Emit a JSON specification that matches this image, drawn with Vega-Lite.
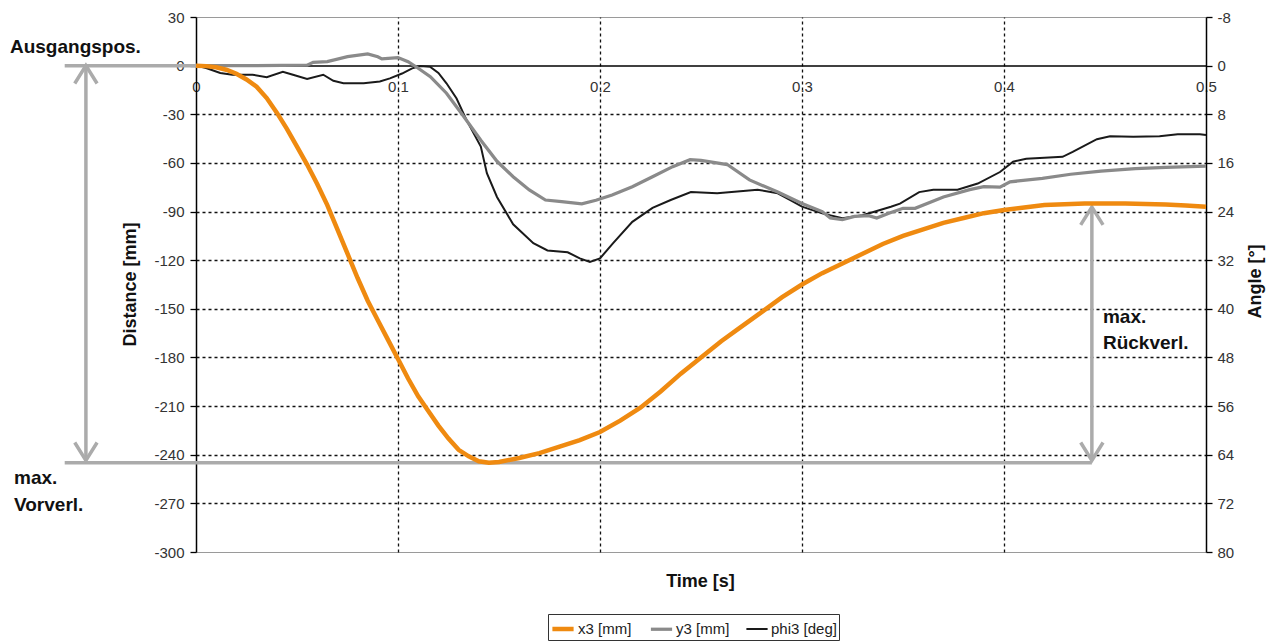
{
  "$schema": "https://vega.github.io/schema/vega-lite/v6.json",
  "width": 1010,
  "height": 535,
  "autosize": "none",
  "padding": {"left": 196, "top": 17, "right": 71, "bottom": 91},
  "background": "white",
  "config": {
    "font": "Liberation Sans",
    "view": {"stroke": "#9a9a9a", "strokeWidth": 1}
  },
  "datasets": {
    "x3": [
      {"t": 0, "v": 0}, {"t": 0.005, "v": -0.3}, {"t": 0.01, "v": -1}, {"t": 0.015, "v": -2.5},
      {"t": 0.02, "v": -5}, {"t": 0.025, "v": -8.5}, {"t": 0.03, "v": -13}, {"t": 0.035, "v": -20},
      {"t": 0.04, "v": -29}, {"t": 0.045, "v": -39}, {"t": 0.05, "v": -50}, {"t": 0.055, "v": -61},
      {"t": 0.06, "v": -73}, {"t": 0.065, "v": -86}, {"t": 0.07, "v": -101}, {"t": 0.075, "v": -116},
      {"t": 0.08, "v": -131}, {"t": 0.085, "v": -145}, {"t": 0.09, "v": -157}, {"t": 0.095, "v": -169},
      {"t": 0.1, "v": -181}, {"t": 0.105, "v": -193}, {"t": 0.11, "v": -204}, {"t": 0.115, "v": -213},
      {"t": 0.12, "v": -222}, {"t": 0.125, "v": -230}, {"t": 0.13, "v": -237}, {"t": 0.135, "v": -241},
      {"t": 0.14, "v": -244}, {"t": 0.145, "v": -245}, {"t": 0.15, "v": -244.5}, {"t": 0.16, "v": -242},
      {"t": 0.17, "v": -239}, {"t": 0.18, "v": -235}, {"t": 0.19, "v": -231}, {"t": 0.2, "v": -226},
      {"t": 0.21, "v": -219}, {"t": 0.22, "v": -211}, {"t": 0.23, "v": -201}, {"t": 0.24, "v": -190},
      {"t": 0.25, "v": -180}, {"t": 0.26, "v": -170}, {"t": 0.27, "v": -161}, {"t": 0.28, "v": -152},
      {"t": 0.29, "v": -143}, {"t": 0.3, "v": -135}, {"t": 0.31, "v": -128}, {"t": 0.32, "v": -122},
      {"t": 0.33, "v": -116}, {"t": 0.34, "v": -110}, {"t": 0.35, "v": -105}, {"t": 0.36, "v": -101},
      {"t": 0.37, "v": -97}, {"t": 0.38, "v": -94}, {"t": 0.39, "v": -91}, {"t": 0.4, "v": -89},
      {"t": 0.41, "v": -87.5}, {"t": 0.42, "v": -86}, {"t": 0.43, "v": -85.5}, {"t": 0.44, "v": -85},
      {"t": 0.45, "v": -85}, {"t": 0.46, "v": -85}, {"t": 0.47, "v": -85.3}, {"t": 0.48, "v": -85.7},
      {"t": 0.49, "v": -86.2}, {"t": 0.5, "v": -87}
    ],
    "y3": [
      {"t": 0, "v": 0}, {"t": 0.03, "v": 0}, {"t": 0.055, "v": 0.3}, {"t": 0.058, "v": 2},
      {"t": 0.065, "v": 2.5}, {"t": 0.075, "v": 5.5}, {"t": 0.085, "v": 7.2}, {"t": 0.09, "v": 5.5},
      {"t": 0.092, "v": 4.2}, {"t": 0.1, "v": 5}, {"t": 0.105, "v": 2.4}, {"t": 0.11, "v": -1.6},
      {"t": 0.116, "v": -6.8}, {"t": 0.124, "v": -17}, {"t": 0.132, "v": -30.5}, {"t": 0.141, "v": -46},
      {"t": 0.149, "v": -59}, {"t": 0.157, "v": -68.5}, {"t": 0.165, "v": -76.7}, {"t": 0.173, "v": -82.9},
      {"t": 0.181, "v": -83.9}, {"t": 0.191, "v": -85.3}, {"t": 0.198, "v": -83}, {"t": 0.206, "v": -79.8},
      {"t": 0.216, "v": -74.7}, {"t": 0.226, "v": -68.5}, {"t": 0.236, "v": -62.3}, {"t": 0.2446, "v": -58},
      {"t": 0.25, "v": -58.5}, {"t": 0.263, "v": -61}, {"t": 0.274, "v": -70.5}, {"t": 0.288, "v": -78},
      {"t": 0.3, "v": -85}, {"t": 0.31, "v": -90}, {"t": 0.314, "v": -94}, {"t": 0.32, "v": -95},
      {"t": 0.326, "v": -93}, {"t": 0.333, "v": -92.5}, {"t": 0.337, "v": -94}, {"t": 0.343, "v": -91},
      {"t": 0.35, "v": -88}, {"t": 0.356, "v": -88}, {"t": 0.37, "v": -81}, {"t": 0.383, "v": -76.5},
      {"t": 0.39, "v": -74.7}, {"t": 0.398, "v": -75}, {"t": 0.403, "v": -71.7}, {"t": 0.419, "v": -69.5},
      {"t": 0.433, "v": -67}, {"t": 0.448, "v": -65}, {"t": 0.465, "v": -63.5}, {"t": 0.48, "v": -62.8},
      {"t": 0.5, "v": -62}
    ],
    "phi3": [
      {"t": 0, "v": 0}, {"t": 0.005, "v": 0.4}, {"t": 0.012, "v": 1.2}, {"t": 0.018, "v": 1.5},
      {"t": 0.028, "v": 1.5}, {"t": 0.035, "v": 1.9}, {"t": 0.043, "v": 1.0}, {"t": 0.048, "v": 1.5},
      {"t": 0.055, "v": 2.2}, {"t": 0.063, "v": 1.5}, {"t": 0.068, "v": 2.5}, {"t": 0.073, "v": 2.9},
      {"t": 0.083, "v": 2.9}, {"t": 0.091, "v": 2.6}, {"t": 0.096, "v": 2.1}, {"t": 0.102, "v": 1.3},
      {"t": 0.107, "v": 0.45}, {"t": 0.111, "v": 0.05}, {"t": 0.116, "v": 0.2}, {"t": 0.12, "v": 1.2},
      {"t": 0.124, "v": 2.9}, {"t": 0.129, "v": 5.4}, {"t": 0.134, "v": 9.0}, {"t": 0.141, "v": 13.3},
      {"t": 0.144, "v": 17.7}, {"t": 0.149, "v": 21.6}, {"t": 0.157, "v": 26.1}, {"t": 0.167, "v": 29.2},
      {"t": 0.174, "v": 30.4}, {"t": 0.184, "v": 30.7}, {"t": 0.19, "v": 31.7}, {"t": 0.195, "v": 32.3},
      {"t": 0.2, "v": 31.7}, {"t": 0.2065, "v": 29.2}, {"t": 0.216, "v": 25.7}, {"t": 0.226, "v": 23.4},
      {"t": 0.235, "v": 22.1}, {"t": 0.245, "v": 20.8}, {"t": 0.258, "v": 21.0}, {"t": 0.268, "v": 20.7},
      {"t": 0.278, "v": 20.4}, {"t": 0.288, "v": 21.0}, {"t": 0.294, "v": 22.1}, {"t": 0.3, "v": 23.2},
      {"t": 0.31, "v": 24.3}, {"t": 0.32, "v": 25.1}, {"t": 0.33, "v": 24.6}, {"t": 0.344, "v": 23.2},
      {"t": 0.3485, "v": 22.7}, {"t": 0.358, "v": 20.8}, {"t": 0.365, "v": 20.4}, {"t": 0.377, "v": 20.4},
      {"t": 0.387, "v": 19.4}, {"t": 0.398, "v": 17.5}, {"t": 0.4045, "v": 15.8}, {"t": 0.411, "v": 15.3},
      {"t": 0.429, "v": 15.0}, {"t": 0.434, "v": 14.2}, {"t": 0.446, "v": 12.1}, {"t": 0.4525, "v": 11.6},
      {"t": 0.464, "v": 11.7}, {"t": 0.477, "v": 11.6}, {"t": 0.486, "v": 11.3}, {"t": 0.497, "v": 11.3},
      {"t": 0.5, "v": 11.4}
    ],
    "ann": [
      {"seg": "a", "i": 0, "t": -0.065, "v": 0}, {"seg": "a", "i": 1, "t": 0, "v": 0},
      {"seg": "b", "i": 0, "t": -0.065, "v": -245}, {"seg": "b", "i": 1, "t": 0.4435, "v": -245},
      {"seg": "c", "i": 0, "t": -0.0545, "v": -1}, {"seg": "c", "i": 1, "t": -0.0545, "v": -243},
      {"seg": "d", "i": 0, "t": 0.4435, "v": -88}, {"seg": "d", "i": 1, "t": 0.4435, "v": -243}
    ],
    "heads": [
      {"t": -0.0545, "v": 0, "dir": "up"}, {"t": -0.0545, "v": -243.5, "dir": "down"},
      {"t": 0.4435, "v": -87.2, "dir": "up"}, {"t": 0.4435, "v": -243.5, "dir": "down"}
    ],
    "texts": [
      {"t": -0.0921, "v": 11.5, "label": "Ausgangspos."},
      {"t": -0.0901, "v": -254.4, "label": "max."},
      {"t": -0.0901, "v": -271, "label": "Vorverl."},
      {"t": 0.449, "v": -155, "label": "max."},
      {"t": 0.449, "v": -171.1, "label": "Rückverl."}
    ]
  },
  "layer": [
    {
      "data": {"name": "phi3"},
      "transform": [{"calculate": "'phi3 [deg]'", "as": "series"}],
      "mark": {"type": "line"},
      "encoding": {
        "x": {"field": "t", "type": "quantitative", "scale": {"domain": [0, 0.5], "nice": false, "zero": false}},
        "y": {
          "field": "v", "type": "quantitative",
          "scale": {"domain": [-8, 80], "reverse": true, "nice": false, "zero": false},
          "axis": {
            "orient": "right", "values": [-8, 0, 8, 16, 24, 32, 40, 48, 56, 64, 72, 80],
            "labelExpr": "replace(datum.label, '\u2212', '-')",
            "domainColor": "#000", "domainWidth": 1.5, "tickColor": "#000", "tickSize": 6, "tickWidth": 1.3,
            "labelPadding": 5, "labelFontSize": 15, "labelColor": "#333", "grid": false,
            "title": "Angle [°]", "titleFontSize": 18, "titleFontWeight": "bold", "titleColor": "#111",
            "titleX": 49, "titleY": 264, "titleAngle": -90, "titleBaseline": "middle", "titleAlign": "center"
          }
        },
        "color": {"field": "series", "type": "nominal"},
        "strokeWidth": {"field": "series", "type": "nominal"}
      }
    },
    {
      "layer": [
        {
          "data": {"name": "ann"},
          "mark": {"type": "line", "color": "#ababab", "strokeWidth": 3.5},
          "encoding": {
            "x": {"field": "t", "type": "quantitative",
              "scale": {"domain": [0, 0.5], "nice": false, "zero": false},
              "axis": {
                "orient": "bottom", "offset": -486.4, "values": [0, 0.1, 0.2, 0.3, 0.4, 0.5], "format": ".1~f",
                "domainColor": "#000", "domainWidth": 1.5, "ticks": false, "labelPadding": 14,
                "labelFontSize": 15, "labelColor": "#333", "labelFlush": false, "labelOverlap": false,
                "grid": true, "gridDash": [3, 3], "gridColor": "#111", "gridWidth": 1.3,
                "gridOpacity": {"condition": {"test": "datum.value == 0 || datum.value == 0.5", "value": 0}, "value": 1},
                "title": "Time [s]", "titleFontSize": 18, "titleFontWeight": "bold", "titleColor": "#111",
                "titleX": 504, "titleY": 516, "titleBaseline": "middle", "titleAlign": "center"
              }
            },
            "y": {"field": "v", "type": "quantitative",
              "scale": {"domain": [-300, 30], "nice": false, "zero": false},
              "axis": {
                "orient": "left", "values": [-300, -270, -240, -210, -180, -150, -120, -90, -60, -30, 0, 30],
                "labelExpr": "replace(datum.label, '\u2212', '-')",
                "domainColor": "#000", "domainWidth": 1.5, "tickColor": "#000", "tickSize": 6, "tickWidth": 1.3,
                "labelPadding": 6, "labelFontSize": 15, "labelColor": "#333",
                "grid": true, "gridDash": [3, 3], "gridColor": "#111", "gridWidth": 1.3,
                "gridOpacity": {"condition": {"test": "datum.value == 0 || datum.value == 30 || datum.value == -300", "value": 0}, "value": 1},
                "title": "Distance [mm]", "titleFontSize": 18, "titleFontWeight": "bold", "titleColor": "#111",
                "titleX": -66, "titleY": 267, "titleAngle": -90, "titleBaseline": "middle", "titleAlign": "center"
              }
            },
            "detail": {"field": "seg", "type": "nominal"},
            "order": {"field": "i", "type": "quantitative"}
          }
        },
        {
          "data": {"name": "heads"},
          "mark": {"type": "point", "filled": false, "stroke": "#ababab", "strokeWidth": 3.5, "opacity": 1, "size": 500},
          "encoding": {
            "x": {"field": "t", "type": "quantitative"},
            "y": {"field": "v", "type": "quantitative"},
            "shape": {"field": "dir", "type": "nominal", "legend": null,
              "scale": {"domain": ["up", "down"], "range": ["M-1,1.6L0,0L1,1.6", "M-1,-1.6L0,0L1,-1.6"]}}
          }
        },
        {
          "data": {"name": "texts"},
          "mark": {"type": "text", "align": "left", "baseline": "middle", "fontSize": 19, "fontWeight": "bold", "color": "#111"},
          "encoding": {
            "x": {"field": "t", "type": "quantitative"},
            "y": {"field": "v", "type": "quantitative"},
            "text": {"field": "label", "type": "nominal"}
          }
        },
        {
          "data": {"name": "y3"},
          "transform": [{"calculate": "'y3 [mm]'", "as": "series"}],
          "mark": {"type": "line"},
          "encoding": {
            "x": {"field": "t", "type": "quantitative"},
            "y": {"field": "v", "type": "quantitative"},
            "color": {"field": "series", "type": "nominal"},
            "strokeWidth": {"field": "series", "type": "nominal"}
          }
        },
        {
          "data": {"name": "x3"},
          "transform": [{"calculate": "'x3 [mm]'", "as": "series"}],
          "mark": {"type": "line"},
          "encoding": {
            "x": {"field": "t", "type": "quantitative"},
            "y": {"field": "v", "type": "quantitative"},
            "color": {"field": "series", "type": "nominal",
              "scale": {"domain": ["x3 [mm]", "y3 [mm]", "phi3 [deg]"], "range": ["#EF8A10", "#8a8a8a", "#1a1a1a"]},
              "legend": {"orient": "none", "legendX": 352, "legendY": 597, "direction": "horizontal", "title": null,
                "strokeColor": "#333", "padding": 2, "labelFontSize": 15, "labelColor": "#222",
                "symbolType": "stroke", "symbolSize": 450, "columnPadding": 12, "labelOffset": 2}},
            "strokeWidth": {"field": "series", "type": "nominal",
              "scale": {"domain": ["x3 [mm]", "y3 [mm]", "phi3 [deg]"], "range": [4.5, 2, 1.8]},
              "legend": {"orient": "none", "legendX": 352, "legendY": 597, "direction": "horizontal", "title": null,
                "strokeColor": "#333", "padding": 2, "labelFontSize": 15, "labelColor": "#222",
                "symbolType": "stroke", "symbolSize": 450, "columnPadding": 12, "labelOffset": 2}}
          }
        }
      ]
    }
  ],
  "resolve": {"scale": {"y": "independent"}}
}
